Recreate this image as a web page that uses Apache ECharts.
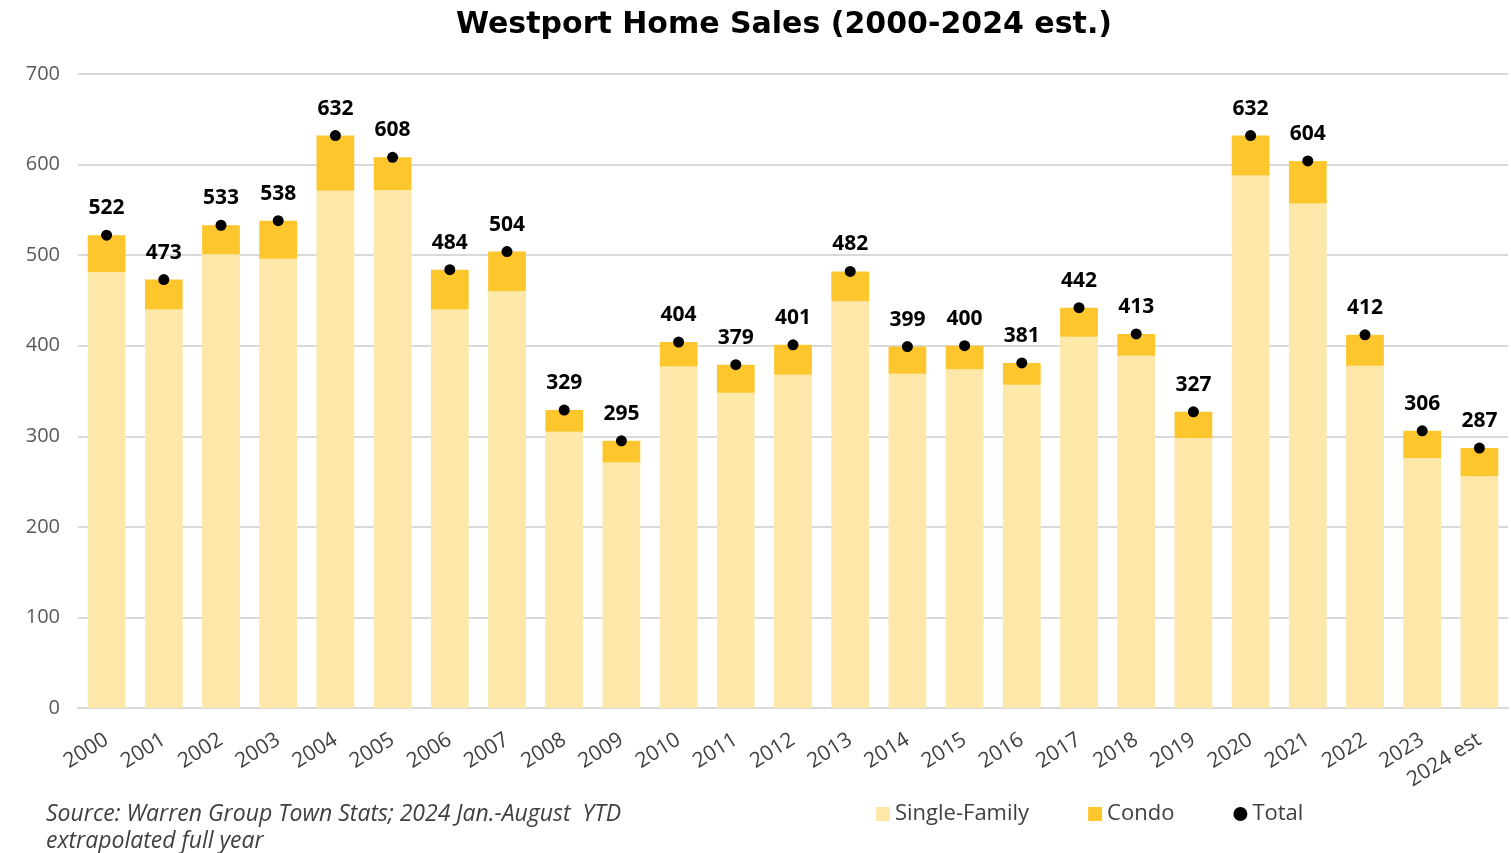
<!DOCTYPE html>
<html>
<head>
<meta charset="utf-8">
<script src="https://cdn.jsdelivr.net/npm/echarts@6/dist/echarts.min.js"></script>
<style>
html,body{margin:0;padding:0;background:#fff;}
#c{width:1511px;height:853px;}
</style>
</head>
<body>
<div id="c"></div>
<script>
const categories = ['2000','2001','2002','2003','2004','2005','2006','2007','2008','2009','2010','2011','2012','2013','2014','2015','2016','2017','2018','2019','2020','2021','2022','2023','2024 est'];
const singleFamily = [481,440,501,496,571,572,440,460,305,271,377,348,368,449,369,374,357,410,389,298,588,557,378,276,256];
const condo = [41,33,32,42,61,36,44,44,24,24,27,31,33,33,30,26,24,32,24,29,44,47,34,30,31];
const total = [522,473,533,538,632,608,484,504,329,295,404,379,401,482,399,400,381,442,413,327,632,604,412,306,287];
const yTicks = [0,100,200,300,400,500,600,700];

const FONT = 'Open Sans';
const chart = echarts.init(document.getElementById('c'));
chart.setOption({
  animation: false,
  title: {
    text: 'Westport Home Sales (2000-2024 est.)',
    left: 779, top: 5, textAlign: 'center',
    textStyle: {fontFamily: 'DejaVu Sans', fontWeight: 'bold', fontSize: 30, color: '#000'}
  },
  grid: {left: 78, right: 3, top: 74, bottom: 145, containLabel: false},
  legend: {
    left: 871, top: 798,
    itemWidth: 14, itemHeight: 14, itemGap: 59,
    textStyle: {fontFamily: FONT, fontSize: 22, color: '#404040'},
    data: [
      {name: 'Single-Family', icon: 'rect'},
      {name: 'Condo', icon: 'rect'},
      {name: 'Total', icon: 'circle'}
    ]
  },
  graphic: [{
    type: 'text', left: 46, top: 801,
    style: {
      text: 'Source: Warren Group Town Stats; 2024 Jan.-August  YTD\nextrapolated full year',
      font: 'italic 23px "Open Sans"', fill: '#404040', lineHeight: 27
    }
  }],
  xAxis: {
    type: 'category', data: categories,
    axisTick: {show: false},
    axisLine: {lineStyle: {color: '#d9d9d9', width: 2}},
    axisLabel: {rotate: 32, fontFamily: FONT, fontSize: 21, color: '#404040', margin: 30, interval: 0}
  },
  yAxis: {
    type: 'value', min: 0, max: 700, interval: 100,
    axisLabel: {fontFamily: FONT, fontSize: 20, color: '#595959', margin: 18,
      formatter: v => yTicks.includes(v) ? String(v) : ''},
    splitLine: {lineStyle: {color: '#d9d9d9', width: 2}},
    axisLine: {show: false}, axisTick: {show: false}
  },
  series: [
    {name: 'Single-Family', type: 'bar', stack: 's', data: singleFamily, barWidth: '66%',
     itemStyle: {color: '#FDE8A9'}},
    {name: 'Condo', type: 'bar', stack: 's', data: condo, barWidth: '66%',
     itemStyle: {color: '#FEC62D'}},
    {name: 'Total', type: 'scatter', data: total, symbol: 'circle', symbolSize: 11,
     itemStyle: {color: '#000', opacity: 1}, z: 5,
     label: {show: true, position: 'top', distance: 11, fontFamily: FONT, fontWeight: 'bold', fontSize: 21, color: '#000'}}
  ]
});
</script>
</body>
</html>
